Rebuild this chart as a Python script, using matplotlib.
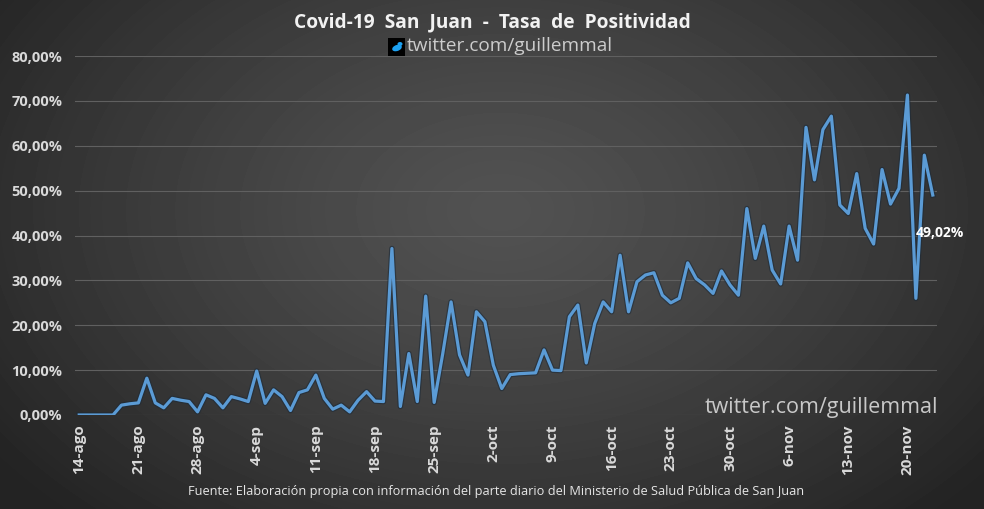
import numpy as np
import matplotlib
matplotlib.use("Agg")
import matplotlib.pyplot as plt
import matplotlib.patheffects as pe
from matplotlib.patches import Rectangle, Ellipse

plt.rcParams['font.family'] = ['Open Sans', 'DejaVu Sans']

# ---- data (daily, 14-ago .. 23-nov) ----
values = [0, 0, 0, 0, 0, 2.2, 2.5, 2.7, 8.2, 2.7,
          1.6, 3.7, 3.3, 3.0, 0.7, 4.5, 3.7, 1.6, 4.1, 3.6,
          3.0, 9.8, 2.6, 5.6, 4.1, 1.0, 5.0, 5.6, 8.9, 3.7,
          1.3, 2.2, 0.7, 3.3, 5.2, 3.1, 3.0, 37.1, 1.9, 13.7,
          3.0, 26.5, 2.8, 13.5, 25.2, 13.4, 8.9, 23.0, 20.8, 11.1,
          5.9, 9.0, 9.2, 9.3, 9.4, 14.5, 10.0, 9.9, 21.9, 24.5,
          11.6, 20.4, 25.2, 23.0, 35.6, 23.0, 29.7, 31.2, 31.7, 26.7,
          25.0, 26.0, 33.9, 30.4, 29.0, 27.1, 32.1, 29.0, 26.7, 46.0,
          34.9, 42.1, 32.3, 29.2, 42.1, 34.5, 64.1, 52.4, 63.6, 66.6,
          46.8, 44.9, 53.8, 41.6, 38.1, 54.7, 47.0, 50.5, 71.3, 26.0,
          57.9, 49.02]
tick_labels = ["14-ago", "21-ago", "28-ago", "4-sep", "11-sep", "18-sep", "25-sep",
               "2-oct", "9-oct", "16-oct", "23-oct", "30-oct", "6-nov", "13-nov", "20-nov"]
y_ticks = [0, 10, 20, 30, 40, 50, 60, 70, 80]
last_label = "49,02%"
title = "Covid-19  San  Juan  -  Tasa  de  Positividad"
subtitle = "twitter.com/guillemmal"
watermark = "twitter.com/guillemmal"
source = "Fuente: Elaboración propia con información del parte diario del Ministerio de Salud Pública de San Juan"

days = np.arange(len(values))
vals = np.array(values) / 100.0

W, H = 984, 509
fig = plt.figure(figsize=(W / 100, H / 100), dpi=100)

# background radial gradient
bg = fig.add_axes([0, 0, 1, 1], zorder=-10)
yy, xx = np.mgrid[0:H, 0:W]
d = np.sqrt(((xx - 500) / 620.0) ** 2 + ((yy - 210) / 420.0) ** 2)
d = np.clip(d, 0, 1)
c_in, c_out = 0.32, 0.14
img = c_in + (c_out - c_in) * d ** 1.3
bg.imshow(img, cmap='gray', vmin=0, vmax=1, aspect='auto', extent=[0, W, H, 0])
bg.set_xlim(0, W)
bg.set_ylim(H, 0)
bg.axis('off')

ax = fig.add_axes([75 / W, 94 / H, 862 / W, 359 / H])
ax.set_facecolor('none')
ax.plot(days, vals, color='#5B9BD5', lw=2.3, solid_joinstyle='round', zorder=3,
        path_effects=[pe.Stroke(linewidth=4.0, foreground='#1c2a38', alpha=0.6,
                                joinstyle='round'), pe.Normal()])
ax.set_xlim(-0.5, len(values) - 0.5)
ax.set_ylim(0, 0.8)

ax.set_yticks([v / 100 for v in y_ticks])
ax.set_yticklabels([f"{v:.2f}".replace('.', ',') + "%" for v in y_ticks],
                   fontsize=10.5, fontweight='bold', color='#d9d9d9')
ax.set_xticks(np.arange(0, len(values), 7)[:len(tick_labels)])
ax.set_xticklabels(tick_labels, rotation=90, fontsize=11, fontweight='bold', color='#d9d9d9')
ax.tick_params(axis='y', length=0, pad=9)
ax.tick_params(axis='x', length=0, pad=7)
ax.grid(axis='y', color='#606060', lw=0.8)
ax.grid(axis='x', visible=False)
for s in ax.spines.values():
    s.set_visible(False)

ax.annotate(last_label, (days[-1], vals[-1]), xytext=(5, -27), textcoords='offset points',
            ha='center', va='center', fontsize=10, fontweight='bold', color='white')

fig.text(492 / W, 1 - 22 / H, title, ha='center', va='center', fontsize=13.8,
         fontweight='bold', color='#f2f2f2')
fig.text(407 / W, 1 - 46 / H, subtitle, ha='left', va='center', fontsize=13.7,
         color='#cccccc')
# twitter icon
bg.add_patch(Rectangle((388, 38), 17, 18, facecolor='black', edgecolor='none'))
bg.add_patch(Ellipse((397, 48), 10, 6, angle=-20, facecolor='#1da1f2', edgecolor='none'))
bg.add_patch(Ellipse((400, 44), 5, 4, facecolor='#1da1f2', edgecolor='none'))

fig.text(938 / W, 1 - 408 / H, watermark, ha='right', va='center', fontsize=15.5,
         color='#c8c8c8')
fig.text(496 / W, 1 - 492 / H, source, ha='center', va='center', fontsize=9.2,
         color='#e6e6e6')

fig.savefig('out.png', dpi=100)
